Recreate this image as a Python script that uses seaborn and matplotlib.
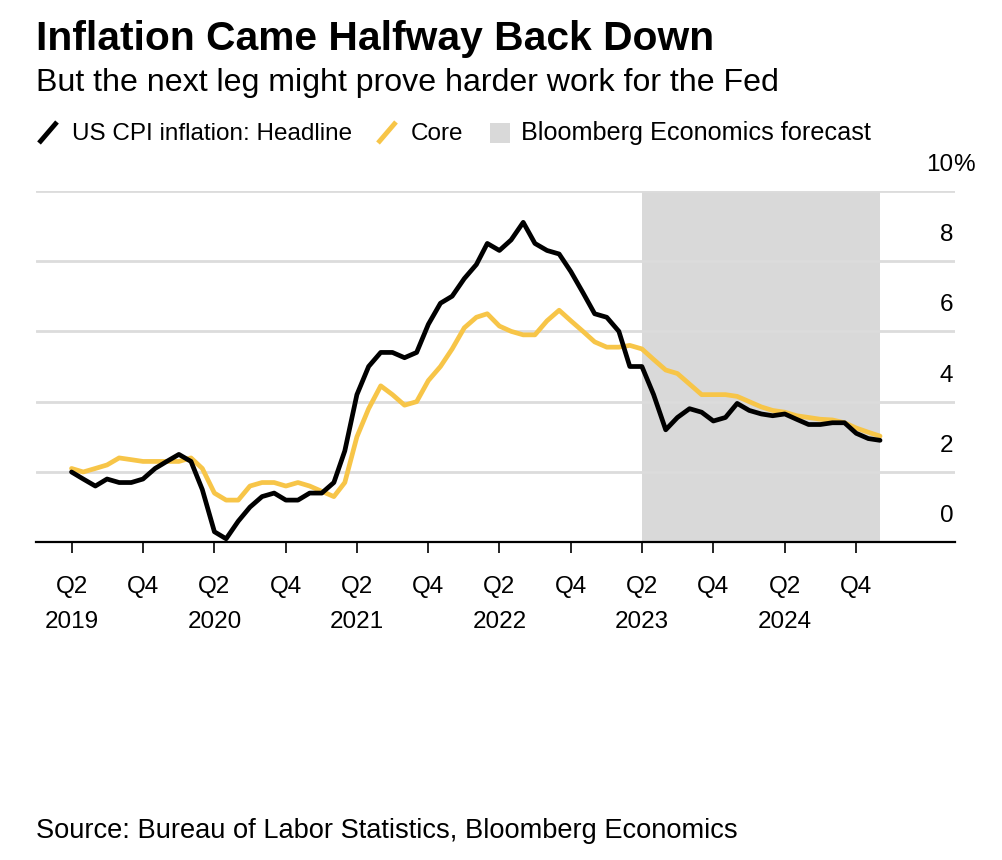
import pandas as pd
import matplotlib.pyplot as plt
import matplotlib.transforms as mtransforms
from matplotlib.lines import Line2D
from matplotlib.patches import Rectangle
import seaborn as sns

# ---------------------------------------------------------------
# DATA
# ---------------------------------------------------------------
start_month = "2019-04-01"
end_month = "2024-12-01"

headline = [
    2.0, 1.8, 1.6, 1.8, 1.7, 1.7, 1.8, 2.1, 2.3,                  # 2019 Apr-Dec
    2.5, 2.3, 1.5, 0.3, 0.1, 0.6, 1.0, 1.3, 1.4, 1.2, 1.2, 1.4,   # 2020
    1.4, 1.7, 2.6, 4.2, 5.0, 5.4, 5.4, 5.25, 5.4, 6.2, 6.8, 7.0,  # 2021
    7.5, 7.9, 8.5, 8.3, 8.6, 9.1, 8.5, 8.3, 8.2, 7.7, 7.1, 6.5,   # 2022
    6.4, 6.0, 5.0, 5.0, 4.2, 3.2, 3.55, 3.8, 3.7, 3.45, 3.55, 3.95,  # 2023
    3.75, 3.65, 3.6, 3.65, 3.5, 3.35, 3.35, 3.4, 3.4, 3.1, 2.95, 2.9,  # 2024
]
core = [
    2.1, 2.0, 2.1, 2.2, 2.4, 2.35, 2.3, 2.3, 2.3,
    2.3, 2.4, 2.1, 1.4, 1.2, 1.2, 1.6, 1.7, 1.7, 1.6, 1.7, 1.6,
    1.45, 1.3, 1.7, 3.0, 3.8, 4.45, 4.2, 3.9, 4.0, 4.6, 5.0, 5.5,
    6.1, 6.4, 6.5, 6.15, 6.0, 5.9, 5.9, 6.3, 6.6, 6.3, 6.0, 5.7,
    5.55, 5.55, 5.6, 5.5, 5.2, 4.9, 4.8, 4.5, 4.2, 4.2, 4.2, 4.15,
    4.0, 3.85, 3.75, 3.7, 3.6, 3.55, 3.5, 3.48, 3.4, 3.25, 3.13, 3.02,
]
forecast_start = "2023-04-01"
forecast_end = "2024-12-01"

tick_dates = ["2019-04-01", "2019-10-01", "2020-04-01", "2020-10-01",
              "2021-04-01", "2021-10-01", "2022-04-01", "2022-10-01",
              "2023-04-01", "2023-10-01", "2024-04-01", "2024-10-01"]
tick_labels = ["Q2", "Q4"] * 6
year_labels = ["2019", "2020", "2021", "2022", "2023", "2024"]
y_ticks = [0, 2, 4, 6, 8, 10]

df = pd.DataFrame({
    "fecha": pd.date_range(start_month, end_month, freq="MS"),
    "headline": headline,
    "core": core,
})

# ---------------------------------------------------------------
# ESTILO
# ---------------------------------------------------------------
sns.set_style("white")
plt.rcParams["font.family"] = ["Liberation Sans", "DejaVu Sans"]
plt.rcParams["text.color"] = "black"
plt.rcParams["xtick.color"] = "black"

NEGRO = "#000000"
AMARILLO = "#F7C548"
GRIS_SOMBRA = "#D9D9D9"
GRIS_GRILLA = "#DCDCDC"

W, H = 1002, 860


def px(x, y):
    return x / W, 1 - y / H


fig = plt.figure(figsize=(W / 100, H / 100), dpi=100)
ax = fig.add_axes([36 / W, 1 - 542.3 / H, 919 / W, 351.6 / H])

# sombra del pronóstico
ax.axvspan(pd.Timestamp(forecast_start), pd.Timestamp(forecast_end),
           color=GRIS_SOMBRA, lw=0, zorder=0)

# grilla
for y in y_ticks[1:]:
    ax.axhline(y, color=GRIS_GRILLA, lw=2, zorder=1)

sns.lineplot(data=df, x="fecha", y="core", ax=ax, color=AMARILLO, lw=3.4,
             zorder=3, clip_on=False)
sns.lineplot(data=df, x="fecha", y="headline", ax=ax, color=NEGRO, lw=3.4,
             zorder=4, clip_on=False)

ax.set_xlim(pd.Timestamp("2018-12-31"), pd.Timestamp("2025-06-11"))
ax.set_ylim(0, 10)
ax.set_xlabel("")
ax.set_ylabel("")

for s in ["top", "right", "left"]:
    ax.spines[s].set_visible(False)
ax.spines["bottom"].set_color(NEGRO)
ax.spines["bottom"].set_linewidth(1.6)
ax.spines["bottom"].set_zorder(5)

ax.set_xticks([pd.Timestamp(d) for d in tick_dates])
ax.set_xticklabels(tick_labels, fontsize=17.5)
ax.tick_params(axis="x", length=8, width=1.2, color=NEGRO, pad=16.5,
               direction="out", bottom=True)
ax.set_yticks([])

# años debajo de cada Q2
trans_anio = mtransforms.blended_transform_factory(ax.transData, fig.transFigure)
for d, anio in zip(tick_dates[::2], year_labels):
    ax.text(pd.Timestamp(d), 1 - 628 / H, anio, transform=trans_anio,
            ha="center", va="baseline", fontsize=17.5)

# etiquetas del eje y a la derecha, sobre cada línea de grilla
for y in y_ticks:
    ax.text(0.998, y + 0.74, str(y), transform=ax.get_yaxis_transform(),
            ha="right", va="center", fontsize=17.5)
    if y == 10:
        ax.text(0.998, y + 0.74, "%", transform=ax.get_yaxis_transform(),
                ha="left", va="center", fontsize=17.5)

# ---------------------------------------------------------------
# TÍTULOS Y LEYENDA
# ---------------------------------------------------------------
fig.text(*px(36, 50), "Inflation Came Halfway Back Down",
         fontsize=29.3, fontweight="bold", ha="left", va="baseline")
fig.text(*px(36, 91), "But the next leg might prove harder work for the Fed",
         fontsize=23.1, ha="left", va="baseline")

for (x0, y0, x1, y1), col in [((39, 143, 57, 122), NEGRO), ((378, 143, 396, 122), AMARILLO)]:
    (fx0, fy0), (fx1, fy1) = px(x0, y0), px(x1, y1)
    fig.add_artist(Line2D([fx0, fx1], [fy0, fy1], color=col, lw=3.5,
                          transform=fig.transFigure, solid_capstyle="butt"))
fx, fy = px(490, 143)
fig.add_artist(Rectangle((fx, fy), 20 / W, 20 / H, color=GRIS_SOMBRA,
                         transform=fig.transFigure, lw=0))

fig.text(*px(72, 140), "US CPI inflation: Headline", fontsize=17.5, va="baseline")
fig.text(*px(411, 140), "Core", fontsize=17.5, va="baseline")
fig.text(*px(521, 140), "Bloomberg Economics forecast", fontsize=18.2, va="baseline")

fig.text(*px(36, 838), "Source: Bureau of Labor Statistics, Bloomberg Economics",
         fontsize=19.6, va="baseline")

fig.savefig("out.png", dpi=100)
